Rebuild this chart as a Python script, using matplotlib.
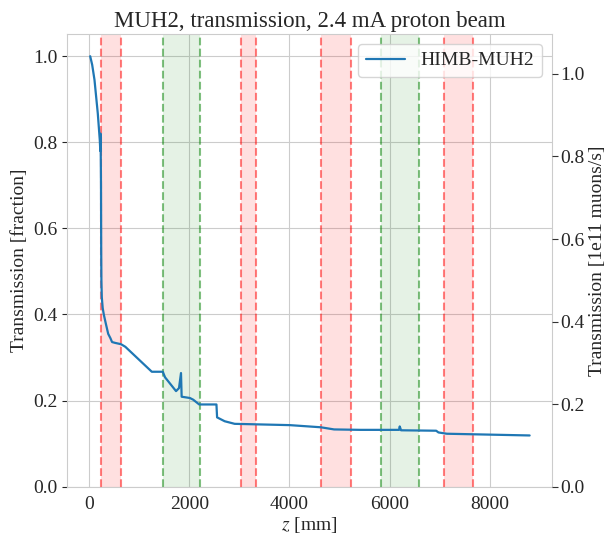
import matplotlib.pyplot as plt
import numpy as np
import seaborn as sns

sns.set_style("whitegrid")
plt.rcParams["font.family"] = ["Liberation Serif", "DejaVu Serif"]
plt.rcParams["mathtext.fontset"] = "stix"

# transmission curve
z = [20, 60, 106, 172, 212, 222, 228, 236, 240, 244, 252, 270, 292, 330, 380,
     424, 457, 520, 636, 722, 1251, 1470, 1516, 1735, 1794, 1834, 1847, 2012,
     2079, 2198, 2542, 2555, 2707, 2906, 4006, 4627, 4892, 5422, 5839, 6190,
     6203, 6230, 6931, 6977, 7144, 8798]
trans = [1.0, 0.98, 0.945, 0.867, 0.805, 0.78, 0.82, 0.70, 0.55, 0.48, 0.44,
         0.415, 0.40, 0.38, 0.355, 0.345, 0.336, 0.334, 0.331, 0.325, 0.267,
         0.267, 0.254, 0.222, 0.229, 0.264, 0.209, 0.206, 0.202, 0.191, 0.191,
         0.161, 0.152, 0.146, 0.143, 0.138, 0.133, 0.132, 0.132, 0.132, 0.14,
         0.131, 0.130, 0.126, 0.123, 0.119]

# element regions
red_bands = [(245, 636), (3038, 3337), (4627, 5223), (7090, 7672)]
green_bands = [(1470, 2218), (5839, 6587)]

fig, ax = plt.subplots(figsize=(6.05, 5.33), dpi=100)
fig.subplots_adjust(left=0.111, right=0.912, top=0.9357, bottom=0.0869)

for lo, hi in red_bands:
    ax.axvspan(lo, hi, color="red", alpha=0.12, lw=0)
    ax.axvline(lo, color="red", alpha=0.5, ls="--", lw=1.5)
    ax.axvline(hi, color="red", alpha=0.5, ls="--", lw=1.5)
for lo, hi in green_bands:
    ax.axvspan(lo, hi, color="green", alpha=0.1, lw=0)
    ax.axvline(lo, color="green", alpha=0.5, ls="--", lw=1.5)
    ax.axvline(hi, color="green", alpha=0.5, ls="--", lw=1.5)

ax.plot(z, trans, color="#1f77b4", lw=1.6, label="HIMB-MUH2")
ax.set_xlim(-440, 9240)
ax.set_ylim(0, 1.051)
ax.set_xticks([0, 2000, 4000, 6000, 8000])
ax.set_yticks([0.0, 0.2, 0.4, 0.6, 0.8, 1.0])
ax.tick_params(labelsize=14)
ax.set_xlabel("$z$ [mm]", fontsize=14, labelpad=1)
ax.set_ylabel("Transmission [fraction]", fontsize=14, labelpad=4)
ax.set_title("MUH2, transmission, 2.4 mA proton beam", fontsize=16.5, pad=5)
ax.legend(loc="upper right", fontsize=14, framealpha=0.8)

ax2 = ax.twinx()
ax2.set_ylim(0, 1.096)
ax2.set_yticks([0.0, 0.2, 0.4, 0.6, 0.8, 1.0])
ax2.grid(False)
ax2.tick_params(labelsize=14, right=True, length=4, color="#333333", pad=2)
ax2.set_ylabel("Transmission [1e11 muons/s]", fontsize=14, labelpad=3)
for s in ax2.spines.values():
    s.set_visible(False)

fig.savefig("out.png", dpi=100)
